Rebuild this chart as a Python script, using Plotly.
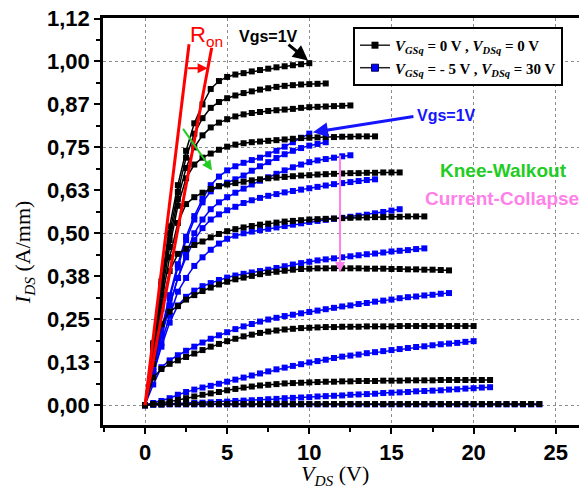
import plotly.graph_objects as go

# ---------------- data ----------------
VDS = [0.0, 0.5, 1.0, 1.5, 2.0, 2.5, 3.0, 3.5, 4.0, 4.5, 5.0, 5.5, 6.0, 6.5, 7.0, 7.5,
       8.0, 8.5, 9.0, 9.5, 10.0, 10.5, 11.0, 11.5, 12.0, 12.5, 13.0, 13.5, 14.0, 14.5,
       15.0, 15.5, 16.0, 16.5, 17.0, 17.5, 18.0, 18.5, 19.0, 19.5, 20.0, 20.5, 21.0,
       21.5, 22.0, 22.5, 23.0, 23.5, 24.0]

# Quiescent bias VGSq = 0 V, VDSq = 0 V (black), Vgs = 1 V down to pinch-off
IDS_Q0_1 = [0, 0.18, 0.36, 0.52, 0.64, 0.74, 0.82, 0.875, 0.92, 0.943, 0.955, 0.962, 0.966,
            0.971, 0.975, 0.979, 0.983, 0.986, 0.989, 0.992, 0.995]
IDS_Q0_2 = [0, 0.175, 0.35, 0.5, 0.62, 0.72, 0.79, 0.835, 0.865, 0.882, 0.893, 0.901, 0.908,
            0.913, 0.918, 0.922, 0.926, 0.929, 0.931, 0.933, 0.934, 0.935, 0.936]
IDS_Q0_3 = [0, 0.17, 0.34, 0.48, 0.6, 0.69, 0.75, 0.785, 0.808, 0.822, 0.832, 0.84, 0.846,
            0.85, 0.853, 0.856, 0.858, 0.86, 0.862, 0.865, 0.867, 0.868, 0.869, 0.87, 0.871, 0.872]
IDS_Q0_4 = [0, 0.16, 0.32, 0.46, 0.58, 0.66, 0.70, 0.72, 0.732, 0.743, 0.752, 0.758, 0.762,
            0.765, 0.767, 0.769, 0.771, 0.773, 0.775, 0.777, 0.778, 0.779, 0.78, 0.78, 0.781,
            0.781, 0.782, 0.782, 0.782]
IDS_Q0_5 = [0, 0.15, 0.3, 0.43, 0.53, 0.585, 0.605, 0.618, 0.629, 0.637, 0.642, 0.646, 0.65,
            0.654, 0.657, 0.66, 0.662, 0.664, 0.666, 0.668, 0.669, 0.671, 0.672, 0.673, 0.674,
            0.675, 0.675, 0.676, 0.676, 0.677, 0.677, 0.677]
IDS_Q0_6 = [0, 0.14, 0.28, 0.39, 0.44, 0.455, 0.466, 0.476, 0.488, 0.498, 0.506, 0.512, 0.517,
            0.521, 0.525, 0.528, 0.531, 0.534, 0.536, 0.538, 0.54, 0.541, 0.542, 0.543, 0.544,
            0.545, 0.546, 0.546, 0.547, 0.547, 0.548, 0.548, 0.549, 0.549, 0.549]
IDS_Q0_7 = [0, 0.12, 0.235, 0.272, 0.288, 0.307, 0.32, 0.332, 0.342, 0.351, 0.359, 0.366, 0.371,
            0.376, 0.381, 0.385, 0.388, 0.391, 0.394, 0.396, 0.397, 0.398, 0.398, 0.398, 0.398,
            0.398, 0.398, 0.397, 0.397, 0.397, 0.396, 0.396, 0.395, 0.395, 0.394, 0.394, 0.393, 0.392]
IDS_Q0_8 = [0, 0.08, 0.105, 0.12, 0.13, 0.14, 0.15, 0.16, 0.17, 0.178, 0.186, 0.193, 0.2, 0.205,
            0.21, 0.214, 0.217, 0.22, 0.222, 0.224, 0.225, 0.226, 0.227, 0.227, 0.228, 0.228,
            0.228, 0.229, 0.229, 0.229, 0.229, 0.23, 0.23, 0.23, 0.23, 0.23, 0.23, 0.23, 0.23,
            0.23, 0.23]
IDS_Q0_9 = [0, 0.003, 0.006, 0.01, 0.015, 0.02, 0.025, 0.03, 0.034, 0.038, 0.043, 0.047, 0.051,
            0.054, 0.057, 0.059, 0.061, 0.063, 0.064, 0.065, 0.066, 0.067, 0.068, 0.068, 0.069,
            0.069, 0.07, 0.07, 0.07, 0.071, 0.071, 0.071, 0.072, 0.072, 0.072, 0.072, 0.073,
            0.073, 0.073, 0.073, 0.073, 0.073, 0.073]
IDS_Q0_10 = [0, 0.002, 0.002, 0.003, 0.003, 0.003, 0.003, 0.003, 0.003, 0.003, 0.003, 0.003,
             0.003, 0.003, 0.003, 0.003, 0.003, 0.003, 0.003, 0.003, 0.003, 0.003, 0.003, 0.003,
             0.003, 0.003, 0.003, 0.003, 0.003, 0.003, 0.003, 0.003, 0.003, 0.003, 0.003, 0.003,
             0.003, 0.003, 0.003, 0.003, 0.003, 0.003, 0.003, 0.003, 0.003, 0.003, 0.003, 0.003,
             0.003]

# Quiescent bias VGSq = -5 V, VDSq = 30 V (blue)
IDS_Q5_1 = [0, 0.11, 0.22, 0.32, 0.41, 0.49, 0.55, 0.6, 0.64, 0.665, 0.683, 0.695, 0.705, 0.713,
            0.72, 0.73, 0.74, 0.752, 0.765, 0.778, 0.79]
IDS_Q5_2 = [0, 0.105, 0.21, 0.31, 0.4, 0.48, 0.54, 0.59, 0.622, 0.637, 0.647, 0.657, 0.668,
            0.682, 0.695, 0.707, 0.719, 0.73, 0.74, 0.748, 0.755, 0.76, 0.765]
IDS_Q5_3 = [0, 0.1, 0.2, 0.29, 0.37, 0.44, 0.5, 0.54, 0.57, 0.59, 0.605, 0.618, 0.63, 0.642,
            0.653, 0.663, 0.673, 0.683, 0.692, 0.7, 0.707, 0.712, 0.716, 0.72, 0.724, 0.727]
IDS_Q5_4 = [0, 0.1, 0.2, 0.29, 0.37, 0.43, 0.48, 0.515, 0.54, 0.555, 0.567, 0.577, 0.588, 0.596,
            0.603, 0.609, 0.614, 0.619, 0.623, 0.627, 0.631, 0.635, 0.639, 0.643, 0.646, 0.649,
            0.652, 0.655, 0.657]
IDS_Q5_5 = [0, 0.09, 0.18, 0.26, 0.33, 0.37, 0.405, 0.43, 0.452, 0.47, 0.484, 0.493, 0.5, 0.505,
            0.509, 0.513, 0.517, 0.521, 0.525, 0.529, 0.533, 0.536, 0.539, 0.542, 0.545, 0.548,
            0.551, 0.554, 0.558, 0.562, 0.566, 0.57]
IDS_Q5_6 = [0, 0.09, 0.17, 0.24, 0.29, 0.315, 0.333, 0.346, 0.355, 0.364, 0.371, 0.377, 0.382,
            0.386, 0.39, 0.394, 0.399, 0.404, 0.409, 0.413, 0.417, 0.421, 0.424, 0.427, 0.43,
            0.433, 0.436, 0.439, 0.441, 0.444, 0.447, 0.449, 0.451, 0.454, 0.456]
IDS_Q5_7 = [0, 0.06, 0.11, 0.13, 0.145, 0.158, 0.17, 0.182, 0.193, 0.203, 0.212, 0.221, 0.229,
            0.236, 0.243, 0.249, 0.254, 0.259, 0.263, 0.267, 0.271, 0.275, 0.279, 0.283, 0.287,
            0.29, 0.294, 0.297, 0.301, 0.304, 0.307, 0.311, 0.314, 0.316, 0.319, 0.321, 0.324, 0.326]
IDS_Q5_8 = [0, 0.006, 0.012, 0.02, 0.03, 0.038, 0.045, 0.051, 0.056, 0.062, 0.068, 0.074, 0.08,
            0.086, 0.092, 0.098, 0.104, 0.109, 0.114, 0.119, 0.124, 0.128, 0.132, 0.137, 0.141,
            0.144, 0.147, 0.151, 0.154, 0.157, 0.16, 0.163, 0.166, 0.169, 0.171, 0.174, 0.177,
            0.179, 0.181, 0.184, 0.186]
IDS_Q5_9 = [0, 0.001, 0.002, 0.003, 0.004, 0.005, 0.006, 0.007, 0.008, 0.009, 0.01, 0.012,
            0.013, 0.014, 0.015, 0.017, 0.018, 0.02, 0.021, 0.022, 0.023, 0.025, 0.026, 0.027,
            0.028, 0.03, 0.031, 0.032, 0.033, 0.035, 0.036, 0.037, 0.038, 0.04, 0.041, 0.042,
            0.043, 0.045, 0.046, 0.048, 0.049, 0.051, 0.052]
IDS_Q5_10 = [0, 0.002, 0.002, 0.002, 0.002, 0.002, 0.002, 0.002, 0.002, 0.002, 0.002, 0.002,
             0.002, 0.002, 0.002, 0.002, 0.002, 0.002, 0.002, 0.002, 0.002, 0.002, 0.002, 0.002,
             0.002, 0.002, 0.002, 0.002, 0.002, 0.002, 0.002, 0.002, 0.002, 0.002, 0.002, 0.002,
             0.002, 0.002, 0.002, 0.002, 0.002, 0.002, 0.002, 0.002, 0.002, 0.002, 0.002, 0.002,
             0.002]

BLACK_CURVES = [IDS_Q0_1, IDS_Q0_2, IDS_Q0_3, IDS_Q0_4, IDS_Q0_5,
                IDS_Q0_6, IDS_Q0_7, IDS_Q0_8, IDS_Q0_9, IDS_Q0_10]
BLUE_CURVES = [IDS_Q5_1, IDS_Q5_2, IDS_Q5_3, IDS_Q5_4, IDS_Q5_5,
               IDS_Q5_6, IDS_Q5_7, IDS_Q5_8, IDS_Q5_9, IDS_Q5_10]

# On-resistance guide lines (VDS, IDS)
RON_LEFT_V = [0, 2.68]
RON_LEFT_I = [0, 1.05]
RON_RIGHT_V = [0, 4.06]
RON_RIGHT_I = [0, 1.04]

Y_TICKS = [0, 0.125, 0.25, 0.375, 0.5, 0.625, 0.75, 0.875, 1.0, 1.125]
Y_TICK_TEXT = ["0,00", "0,13", "0,25", "0,38", "0,50", "0,63", "0,75", "0,87", "1,00", "1,12"]
Y_GRID = [0, 0.25, 0.5, 0.75, 1.0]
Y_RANGE = [-0.058, 1.1265]

LEGEND_1 = "<i>V</i><sub><i>GSq</i></sub> = 0 V , <i>V</i><sub><i>DSq</i></sub> = 0 V"
LEGEND_2 = "<i>V</i><sub><i>GSq</i></sub> = - 5 V , <i>V</i><sub><i>DSq</i></sub> = 30 V"

# ---------------- figure ----------------
fig = go.Figure()

for ids in BLUE_CURVES:
    fig.add_trace(go.Scatter(
        x=VDS[:len(ids)], y=ids, mode="lines+markers", showlegend=False,
        line=dict(color="#0000ff", width=1.5),
        marker=dict(symbol="square", size=6, color="#0000ff")))

for ids in BLACK_CURVES:
    fig.add_trace(go.Scatter(
        x=VDS[:len(ids)], y=ids, mode="lines+markers", showlegend=False,
        line=dict(color="black", width=1.5),
        marker=dict(symbol="square", size=6, color="black")))

for v, i in ((RON_LEFT_V, RON_LEFT_I), (RON_RIGHT_V, RON_RIGHT_I)):
    fig.add_trace(go.Scatter(x=v, y=i, mode="lines", showlegend=False,
                             line=dict(color="#ff0000", width=3)))

# legend entries
fig.add_trace(go.Scatter(x=[None], y=[None], mode="lines+markers", name=LEGEND_1,
                         line=dict(color="#222222", width=1.5),
                         marker=dict(symbol="square", size=7, color="black")))
fig.add_trace(go.Scatter(x=[None], y=[None], mode="lines+markers", name=LEGEND_2,
                         line=dict(color="#222222", width=1.5),
                         marker=dict(symbol="square", size=7, color="#0000ff",
                                     line=dict(color="#000055", width=1))))

# dummy trace for the grid axis
fig.add_trace(go.Scatter(x=[None], y=[None], yaxis="y2", showlegend=False, hoverinfo="skip"))

tickfont = dict(family="Arial", size=22, color="black", weight="bold")

# the page adds an 8 px body margin, so the figure is 8 px smaller and shifted
fig.update_layout(
    width=579, height=483,
    margin=dict(l=95, r=0, t=10, b=66, autoexpand=False),
    plot_bgcolor="white", paper_bgcolor="white",
    xaxis=dict(
        range=[-2.556, 26.9], tickmode="linear", tick0=0, dtick=5,
        ticks="outside", ticklen=6, tickwidth=2, tickcolor="black",
        showline=True, linewidth=2.5, linecolor="black", mirror=True,
        showgrid=True, gridcolor="#8c8c8c", griddash="dot", gridwidth=1,
        zeroline=False, tickfont=tickfont, automargin=False, ticklabeloverflow="allow",
        minor=dict(tick0=0, dtick=2.5, ticks="outside", ticklen=4, tickwidth=1.5,
                   tickcolor="black", showgrid=False)),
    yaxis=dict(
        range=Y_RANGE, tickmode="array", tickvals=Y_TICKS, ticktext=Y_TICK_TEXT,
        ticks="outside", ticklen=6, tickwidth=2, tickcolor="black",
        showline=True, linewidth=2.5, linecolor="black",
        showgrid=False, zeroline=False, tickfont=tickfont, automargin=False,
        ticklabeloverflow="allow",
        minor=dict(tickmode="linear", tick0=0, dtick=0.0625, ticks="outside", ticklen=4,
                   tickwidth=1.5, tickcolor="black", showgrid=False)),
    yaxis2=dict(
        range=Y_RANGE, overlaying="y", side="left", tickmode="array",
        tickvals=Y_GRID, showticklabels=False, ticks="", showline=False, zeroline=False,
        showgrid=True, gridcolor="#8c8c8c", griddash="dot", gridwidth=1, automargin=False),
    legend=dict(
        x=0.5165, y=0.978, xanchor="left", yanchor="top",
        bgcolor="white", bordercolor="black", borderwidth=2,
        font=dict(family="Times New Roman", size=15, color="black", weight="bold"),
        tracegroupgap=0, itemsizing="trace", itemwidth=30),
    font=dict(family="Arial", color="black"),
)

ann = []
# axis titles
ann.append(dict(xref="paper", yref="paper", x=0.479, y=-0.122, showarrow=False,
                xanchor="center", yanchor="middle",
                text="<i>V</i><sub><i>DS</i></sub> (V)",
                font=dict(family="Times New Roman", size=22, color="black")))
ann.append(dict(xref="paper", yref="paper", x=-0.163, y=0.425, showarrow=False, textangle=-90,
                xanchor="center", yanchor="middle",
                text="<i>I</i><sub><i>DS</i></sub> (A/mm)",
                font=dict(family="Times New Roman", size=22, color="black")))
# text labels
ann.append(dict(x=7.49, y=1.073, showarrow=False, text="Vgs=1V",
                font=dict(family="Arial", size=16, color="black", weight="bold")))
ann.append(dict(x=18.32, y=0.843, showarrow=False, text="Vgs=1V",
                font=dict(family="Arial", size=16, color="#1414ff", weight="bold")))
ann.append(dict(x=21.79, y=0.683, showarrow=False, text="Knee-Walkout",
                font=dict(family="Arial", size=19, color="#22cc22", weight="bold")))
ann.append(dict(x=21.73, y=0.602, showarrow=False, text="Current-Collapse",
                font=dict(family="Arial", size=19, color="#ff80e8", weight="bold")))
ann.append(dict(x=3.75, y=1.075, showarrow=False, text="R<sub>on</sub>",
                font=dict(family="Arial", size=22, color="#ff0000")))
# arrows
ann.append(dict(x=9.92, y=1.003, ax=-21, ay=-17, text="", showarrow=True,
                arrowhead=2, arrowsize=1, arrowwidth=3, arrowcolor="black"))
ann.append(dict(x=10.22, y=0.794, ax=102, ay=-16, text="", showarrow=True,
                arrowhead=2, arrowsize=1, arrowwidth=3, arrowcolor="#1414ff"))
ann.append(dict(x=4.08, y=0.683, ax=-30, ay=-43, text="", showarrow=True,
                arrowhead=2, arrowsize=1, arrowwidth=2, arrowcolor="#22cc22"))
ann.append(dict(x=11.87, y=0.387, ax=0, ay=-118, text="", showarrow=True,
                arrowhead=2, arrowsize=1, arrowwidth=2, arrowcolor="#ff80e8"))
ann.append(dict(x=3.81, y=0.98, ax=-21, ay=0, text="", showarrow=True,
                arrowhead=2, arrowsize=1, arrowwidth=2, arrowcolor="#ff0000"))
fig.update_layout(annotations=ann)

fig.write_html("out.html")
